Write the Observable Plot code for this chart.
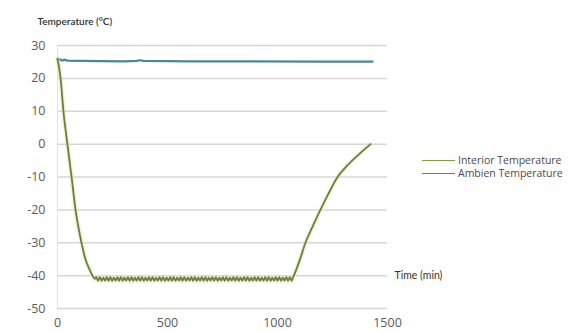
<!DOCTYPE html>
<html>
<head>
<meta charset="utf-8">
<script src="https://cdn.jsdelivr.net/npm/d3@7"></script>
<script src="https://cdn.jsdelivr.net/npm/@observablehq/plot@0.6"></script>
<style>
  html, body { margin: 0; padding: 0; background: #fff; }
  #wrap { position: relative; width: 576px; height: 331px; overflow: hidden; }
  .lg { position: absolute; left: 422px; font: 10.5px "Open Sans", sans-serif; color: #4a4a4a; display: flex; align-items: center; white-space: nowrap; }
  .lg span.sw { display: inline-block; width: 33px; height: 0; border-top: 1.3px solid; margin-right: 3px; }
</style>
</head>
<body>
<div id="wrap"></div>
<script>
// ---- data ----
const xTicks = [0, 500, 1000, 1500];
const yTicks = [-50, -40, -30, -20, -10, 0, 10, 20, 30];

const interiorTime = [0, 14, 27, 45, 64, 82, 100, 109, 127, 145, 159, 170,
  176, 184, 192, 200, 208, 216, 224, 232, 240, 248, 256, 264, 272, 280, 288, 296,
  304, 312, 320, 328, 336, 344, 352, 360, 368, 376, 384, 392, 400, 408, 416, 424,
  432, 440, 448, 456, 464, 472, 480, 488, 496, 504, 512, 520, 528, 536, 544, 552,
  560, 568, 576, 584, 592, 600, 608, 616, 624, 632, 640, 648, 656, 664, 672, 680,
  688, 696, 704, 712, 720, 728, 736, 744, 752, 760, 768, 776, 784, 792, 800, 808,
  816, 824, 832, 840, 848, 856, 864, 872, 880, 888, 896, 904, 912, 920, 928, 936,
  944, 952, 960, 968, 976, 984, 992, 1000, 1008, 1016, 1024, 1032, 1040, 1048, 1056, 1064, 1068,
  1100, 1127, 1160, 1195, 1230, 1273, 1320, 1370, 1423];
const interiorTemp = [26, 20, 10, 0, -10, -20, -27, -30, -35, -38, -40, -41,
  -40.5, -41.6, -40.5, -41.6, -40.6, -41.5, -40.5, -41.6, -40.5, -41.6, -40.6, -41.5, -40.5, -41.6, -40.5, -41.6,
  -40.6, -41.5, -40.5, -41.6, -40.5, -41.6, -40.6, -41.5, -40.5, -41.6, -40.5, -41.6, -40.6, -41.5, -40.5, -41.6,
  -40.5, -41.6, -40.6, -41.5, -40.5, -41.6, -40.5, -41.6, -40.6, -41.5, -40.5, -41.6, -40.5, -41.6, -40.6, -41.5,
  -40.5, -41.6, -40.5, -41.6, -40.6, -41.5, -40.5, -41.6, -40.5, -41.6, -40.6, -41.5, -40.5, -41.6, -40.5, -41.6,
  -40.6, -41.5, -40.5, -41.6, -40.5, -41.6, -40.6, -41.5, -40.5, -41.6, -40.5, -41.6, -40.6, -41.5, -40.5, -41.6,
  -40.5, -41.6, -40.6, -41.5, -40.5, -41.6, -40.5, -41.6, -40.6, -41.5, -40.5, -41.6, -40.5, -41.6, -40.6, -41.5,
  -40.5, -41.6, -40.5, -41.6, -40.6, -41.5, -40.5, -41.6, -40.5, -41.6, -40.6, -41.5, -40.5, -41.6, -40.5, -41.6, -41,
  -35.5, -30, -25, -20, -15.3, -10, -6.3, -3.1, 0];

const ambientTime = [0, 10, 20, 30, 45, 100, 300, 360, 375, 390, 600, 900, 1200, 1432];
const ambientTemp = [25.5, 25.8, 25.4, 25.7, 25.4, 25.3, 25.2, 25.3, 25.5, 25.3, 25.2, 25.2, 25.1, 25.1];

const seriesNames = ["Interior Temperature", "Ambien Temperature"];
const seriesColors = ["#7ba23c", "#3f87a4"];

const interior = interiorTime.map((t, i) => ({t, v: interiorTemp[i]}));
const ambient = ambientTime.map((t, i) => ({t, v: ambientTemp[i]}));

const chart = Plot.plot({
  width: 576,
  height: 331,
  marginLeft: 57,
  marginRight: 189,
  marginTop: 45,
  marginBottom: 23,
  style: {fontFamily: "'Open Sans', sans-serif", fontSize: "12.5px", background: "#fff"},
  x: {domain: [0, 1500]},
  y: {domain: [-50, 30]},
  marks: [
    Plot.ruleY(yTicks, {stroke: "#d6d6d6", strokeWidth: 1.5}),
    Plot.ruleX([0], {stroke: "#e4e4e4", strokeWidth: 1}),
    Plot.axisY({ticks: yTicks, tickSize: 0, tickPadding: 12, label: null, color: "#5a5a5a", tickFormat: d => String(d)}),
    Plot.axisX({ticks: xTicks, tickSize: 0, tickPadding: 10, label: null, color: "#5a5a5a", tickFormat: d => String(d)}),
    Plot.line(ambient, {x: "t", y: "v", stroke: "#4a8798", strokeWidth: 2.2, curve: "linear"}),
    Plot.line(interior, {x: "t", y: "v", stroke: "#dfe7b8", strokeWidth: 4.5, strokeOpacity: 0.5, curve: "monotone-x"}),
    Plot.line(interior, {x: "t", y: "v", stroke: "#6c7f3a", strokeWidth: 1.8, curve: "monotone-x"}),
    Plot.text(["Temperature (°C)"], {frameAnchor: "top-left", dx: -20, dy: -28, textAnchor: "start", fontWeight: 600, fontSize: 10, fill: "#333", fontFamily: "Lato, sans-serif"}),
    Plot.text(["Time (min)"], {x: 1500, y: -40, dx: 7, textAnchor: "start", fontSize: 10.5, fill: "#333", fontFamily: "Lato, sans-serif"})
  ]
});

const wrap = document.getElementById("wrap");
wrap.appendChild(chart);

const legendTop = [153, 166];
seriesNames.forEach((name, i) => {
  const d = document.createElement("div");
  d.className = "lg";
  d.style.top = legendTop[i] + "px";
  const sw = document.createElement("span");
  sw.className = "sw";
  sw.style.borderTopColor = seriesColors[i];
  d.appendChild(sw);
  d.appendChild(document.createTextNode(name));
  wrap.appendChild(d);
});
</script>
</body>
</html>
